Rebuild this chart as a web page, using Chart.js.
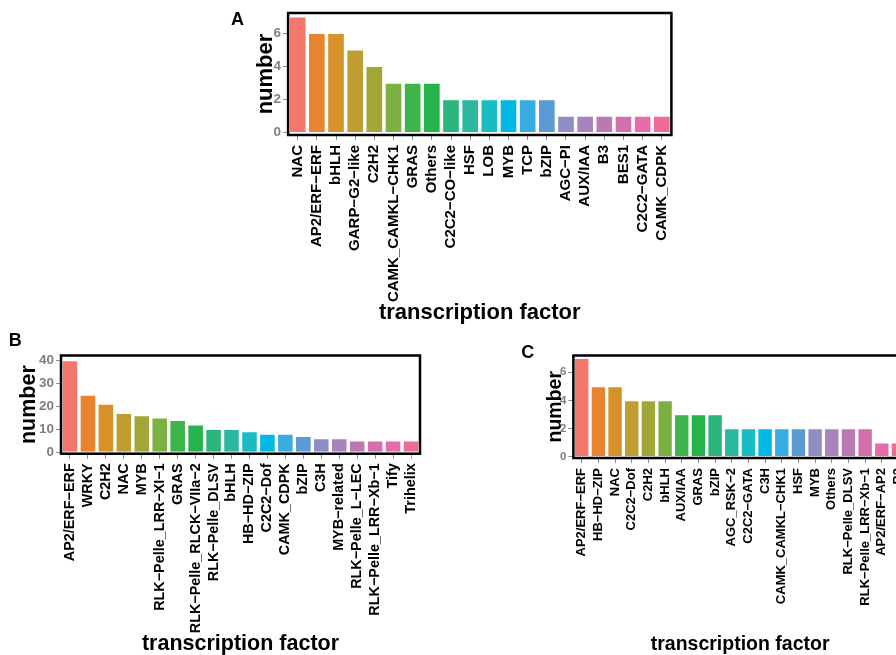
<!DOCTYPE html>
<html>
<head>
<meta charset="utf-8">
<script src="https://cdn.jsdelivr.net/npm/chart.js@4"></script>
<style>
  html, body { margin: 0; padding: 0; background: #fff; }
  body { width: 896px; height: 655px; overflow: hidden; position: relative;
         font-family: "Liberation Sans", Arial, Helvetica, sans-serif; }
  canvas { position: absolute; }
  .tag { position: absolute; font-weight: bold; font-size: 18px; line-height: 18px; color: #000; }
</style>
</head>
<body>
<canvas id="chartA" width="480" height="330" style="left:220px;top:0px"></canvas>
<canvas id="chartB" width="460" height="325" style="left:0px;top:330px"></canvas>
<canvas id="chartC" width="420" height="325" style="left:510px;top:330px"></canvas>
<div class="tag" style="left:231px;top:9.6px">A</div>
<div class="tag" style="left:8.7px;top:330.6px">B</div>
<div class="tag" style="left:521.3px;top:342.6px">C</div>
<script>
const FONT = '"Liberation Sans", Arial, Helvetica, sans-serif';

// Hue palette shared by the three panels (one colour per bar, left to right)
const barColors = [
  '#F3776C', '#E8832F', '#D69229', '#BF9D30', '#A2A637',
  '#7CB042', '#3DB54A', '#27B34C', '#2BB57A', '#2BB8A0',
  '#1ABCC4', '#00B8E3', '#38ABE0', '#5B9AD2', '#8E8DC6',
  '#A883BD', '#BC78B3', '#D36FAC', '#E56BAA', '#EE6B96'
];

// Panel A
const factorsA = ['NAC', 'AP2/ERF\u2212ERF', 'bHLH', 'GARP\u2212G2\u2212like', 'C2H2',
  'CAMK_CAMKL\u2212CHK1', 'GRAS', 'Others', 'C2C2\u2212CO\u2212like', 'HSF', 'LOB', 'MYB',
  'TCP', 'bZIP', 'AGC\u2212PI', 'AUX/IAA', 'B3', 'BES1', 'C2C2\u2212GATA', 'CAMK_CDPK'];
const countsA = [7, 6, 6, 5, 4, 3, 3, 3, 2, 2, 2, 2, 2, 2, 1, 1, 1, 1, 1, 1];
const yTicksA = [0, 2, 4, 6];

// Panel B
const factorsB = ['AP2/ERF\u2212ERF', 'WRKY', 'C2H2', 'NAC', 'MYB', 'RLK\u2212Pelle_LRR\u2212XI\u22121',
  'GRAS', 'RLK\u2212Pelle_RLCK\u2212VIIa\u22122', 'RLK\u2212Pelle_DLSV', 'bHLH', 'HB\u2212HD\u2212ZIP',
  'C2C2\u2212Dof', 'CAMK_CDPK', 'bZIP', 'C3H', 'MYB\u2212related', 'RLK\u2212Pelle_L\u2212LEC',
  'RLK\u2212Pelle_LRR\u2212Xb\u22121', 'Tify', 'Trihelix'];
const countsB = [40, 25, 21, 17, 16, 15, 14, 12, 10, 10, 9, 8, 8, 7, 6, 6, 5, 5, 5, 5];
const yTicksB = [0, 10, 20, 30, 40];

// Panel C
const factorsC = ['AP2/ERF\u2212ERF', 'HB\u2212HD\u2212ZIP', 'NAC', 'C2C2\u2212Dof', 'C2H2', 'bHLH',
  'AUX/IAA', 'GRAS', 'bZIP', 'AGC_RSK\u22122', 'C2C2\u2212GATA', 'C3H', 'CAMK_CAMKL\u2212CHK1',
  'HSF', 'MYB', 'Others', 'RLK\u2212Pelle_DLSV', 'RLK\u2212Pelle_LRR\u2212Xb\u22121', 'AP2/ERF\u2212AP2', 'B3'];
const countsC = [7, 5, 5, 4, 4, 4, 3, 3, 3, 2, 2, 2, 2, 2, 2, 2, 2, 2, 1, 1];
const yTicksC = [0, 2, 4, 6];

// Thick black border around each plotting panel
const panelFrame = {
  id: 'panelFrame',
  afterDatasetsDraw(chart) {
    const { ctx, chartArea: a } = chart;
    ctx.save();
    ctx.strokeStyle = '#000';
    ctx.lineWidth = 2.5;
    ctx.strokeRect(a.left, a.top, a.right - a.left, a.bottom - a.top);
    ctx.restore();
  }
};

function drawPanel(id, o) {
  return new Chart(document.getElementById(id), {
    type: 'bar',
    data: {
      labels: o.labels,
      datasets: [{
        data: o.values,
        backgroundColor: barColors,
        borderColor: 'rgba(255,255,255,0.65)',
        borderWidth: 0.8,
        barPercentage: 0.9,
        categoryPercentage: 1.0
      }]
    },
    options: {
      responsive: false,
      animation: false,
      devicePixelRatio: 1,
      layout: { padding: { top: o.padTop, right: o.padRight, left: 0, bottom: 0 } },
      plugins: { legend: { display: false }, tooltip: { enabled: false } },
      scales: {
        x: {
          type: 'category',
          offset: true,
          grid: { display: true, drawOnChartArea: false, offset: false, tickLength: 5,
                  color: '#8c8c8c', tickWidth: 1 },
          border: { display: false },
          ticks: { autoSkip: false, minRotation: 90, maxRotation: 90, padding: o.xPad,
                   color: '#000', font: { family: FONT, size: o.xFont, weight: 'bold' } },
          title: { display: true, text: 'transcription factor', color: '#000',
                   font: { family: FONT, size: o.titleFont, weight: 'bold', lineHeight: 1 },
                   padding: { top: 0, bottom: o.xTitlePad } },
          afterFit: sc => { sc.height = o.xHeight; }
        },
        y: {
          min: o.yMin,
          max: o.yMax,
          afterBuildTicks: sc => { sc.ticks = o.yTicks.map(v => ({ value: v })); },
          grid: { display: true, drawOnChartArea: false, tickLength: 5, color: '#8c8c8c', tickWidth: 1 },
          border: { display: false },
          ticks: { padding: 2, color: '#7f7f7f', font: { family: FONT, size: o.yFont, weight: 'bold' } },
          title: { display: true, text: 'number', color: '#000',
                   font: { family: FONT, size: o.titleFont, weight: 'bold', lineHeight: 1 },
                   padding: { top: o.yTitlePad, bottom: 0 } },
          afterFit: sc => { sc.width = o.yWidth; }
        }
      }
    },
    plugins: [panelFrame]
  });
}

drawPanel('chartA', {
  labels: factorsA, values: countsA, yTicks: yTicksA, yMin: -0.15, yMax: 7.22,
  padTop: 13, padRight: 28.6, yWidth: 68.1, xHeight: 195,
  xFont: 15, yFont: 13.5, titleFont: 22, xPad: 5, xTitlePad: 6.5, yTitlePad: 34.7
});

drawPanel('chartB', {
  labels: factorsB, values: countsB, yTicks: yTicksB, yMin: -0.65, yMax: 42.18,
  padTop: 25.5, padRight: 40, yWidth: 61, xHeight: 201.3,
  xFont: 14.4, yFont: 13.5, titleFont: 21.5, xPad: 4.6, xTitlePad: 0, yTitlePad: 18.5
});

drawPanel('chartC', {
  labels: factorsC, values: countsC, yTicks: yTicksC, yMin: -0.09, yMax: 7.19,
  padTop: 25.5, padRight: 23.2, yWidth: 63.4, xHeight: 197,
  xFont: 13, yFont: 11.5, titleFont: 19.5, xPad: 5, xTitlePad: 0.25, yTitlePad: 36
});
</script>
</body>
</html>
